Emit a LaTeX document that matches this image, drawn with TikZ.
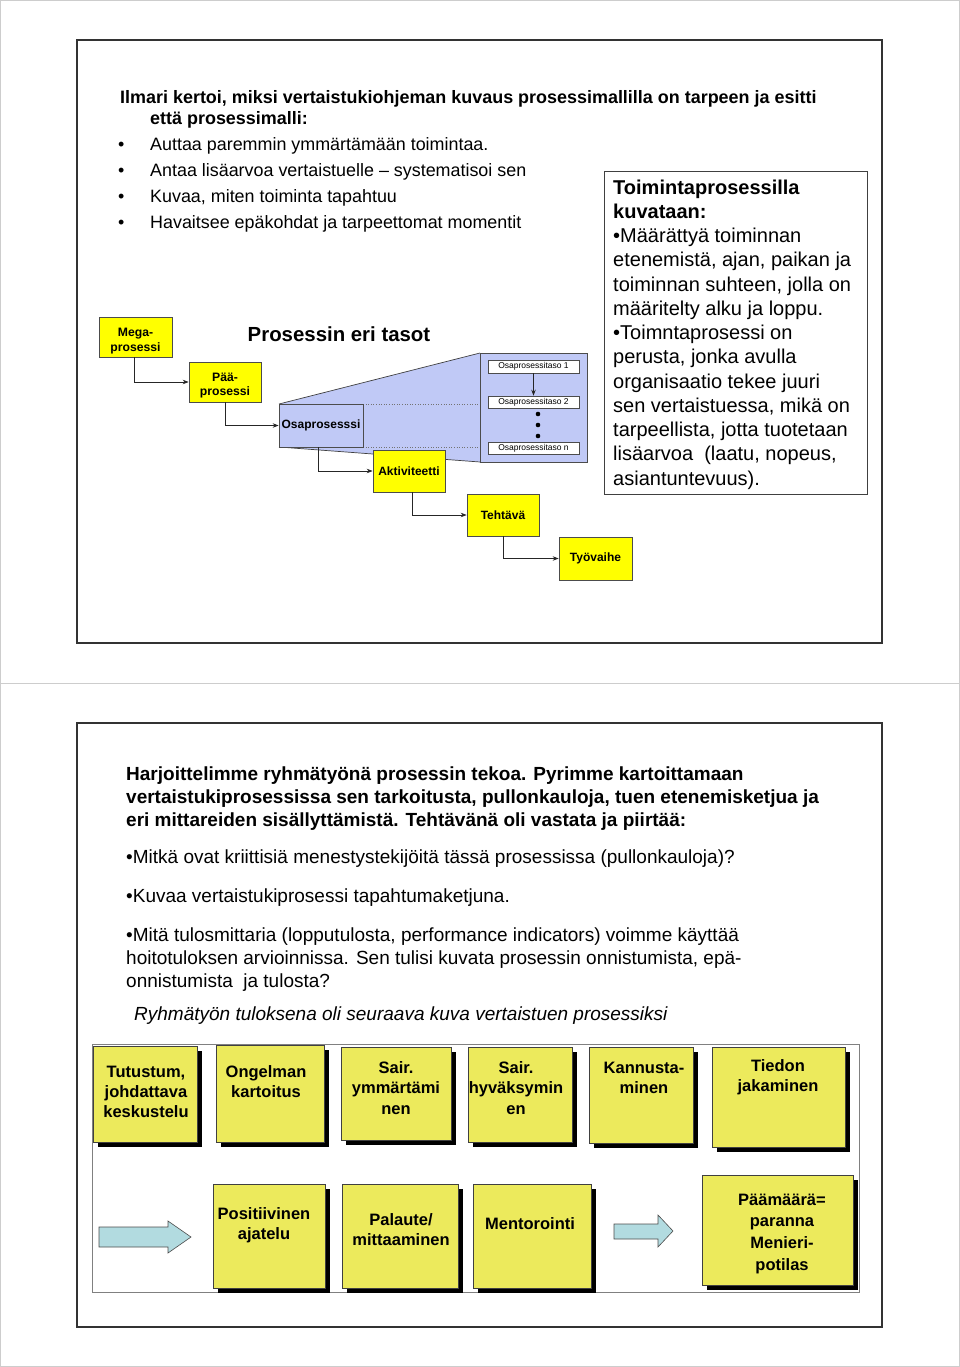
\documentclass[tikz,border=0pt]{standalone}
\usepackage{fontspec}
\setmainfont{Liberation Sans}
\usetikzlibrary{arrows.meta,shadows}
\definecolor{ybright}{RGB}{255,255,0}
\definecolor{ypale}{RGB}{236,234,92}
\definecolor{bluefill}{RGB}{192,201,246}
\definecolor{arrowfill}{RGB}{178,219,224}
\definecolor{pagegrey}{RGB}{205,205,205}
\newcommand\boxnode[7][]{\node[#1, minimum width={#5-#3}, minimum height={#6-#4}] (#2) at ({(#3+#5)/2},{(#4+#6)/2}) {#7};}
\tikzset{
  frame/.style={draw=black!80, line width=1.3pt},
  ybox/.style={draw=black!70, fill=ybright, line width=0.7pt, inner sep=0pt, align=center, font=\bfseries\fontsize{12.2}{14.5}\selectfont},
  ytext/.style={inner sep=0pt, align=center, font=\bfseries\fontsize{12.2}{14.5}\selectfont},
  bluebox/.style={draw=black!70, fill=bluefill, line width=0.7pt, inner sep=0pt},
  lvbox/.style={draw=black!70, fill=white, line width=0.6pt, inner sep=0pt, font=\fontsize{8.5}{9}\selectfont},
  conn/.style={draw=black!85, line width=0.7pt, -{Stealth[length=6pt,width=4.5pt]}},
  postit/.style={draw=black!75, fill=ypale, line width=0.6pt, inner sep=0pt,
    drop shadow={shadow xshift=5pt, shadow yshift=-5pt, fill=black, opacity=1}},
  ptext/.style={anchor=north, align=center, inner sep=0pt, font=\bfseries\fontsize{16.5}{20.3}\selectfont},
  blockarrow/.style={draw=black!70, fill=arrowfill, line width=0.6pt},
  body/.style={anchor=base west, inner sep=0pt, font=\fontsize{17.9}{26}\selectfont},
  bodyb/.style={anchor=base west, inner sep=0pt, font=\bfseries\fontsize{17.95}{21}\selectfont},
  para/.style={anchor=north west, align=left, inner sep=0pt, font=\fontsize{19}{23}\selectfont},
}
\begin{document}
\begin{tikzpicture}[x=1pt,y=-1pt]
\useasboundingbox (0,0) rectangle (960,1367);
% pages
\draw[pagegrey, line width=1pt] (0.5,0.5) rectangle (959.5,1366.5);
\draw[pagegrey, line width=1pt] (0,683) -- (960,683);
% ---------------- slide 1 ----------------
\draw[frame] (77,40) rectangle (882,643);
\node[bodyb] (s1a) at (120,103.5) {Ilmari kertoi, miksi vertaistukiohjeman kuvaus prosessimallilla on tarpeen ja esitti};
\node[bodyb] (s1b) at (150,124.5) {että prosessimalli:};
\foreach \y/\t [count=\i] in {150.5/{Auttaa paremmin ymmärtämään toimintaa.},176.5/{Antaa lisäarvoa vertaistuelle – systematisoi sen},202.5/{Kuvaa, miten toiminta tapahtuu},228.5/{Havaitsee epäkohdat ja tarpeettomat momentit}}{
  \node[body] (bul\i) at (118,\y) {•};
  \node[body] (bt\i) at (150,\y) {\t};
}
% right text box
\draw[draw=black!75, line width=0.8pt] (604,171) rectangle (867,494);
\node[anchor=north west, align=left, inner sep=0pt, font=\fontsize{20}{24.25}\selectfont] (rtext) at (613,179.5)
 {\textbf{Toimintaprosessilla}\\\textbf{kuvataan:}\\•Määrättyä toiminnan\\etenemistä, ajan, paikan ja\\toiminnan suhteen, jolla on\\määritelty alku ja loppu.\\•Toimntaprosessi on\\perusta, jonka avulla\\organisaatio tekee juuri\\sen vertaistuessa, mikä on\\tarpeellista, jotta tuotetaan\\lisäarvoa\ \ (laatu, nopeus,\\asiantuntevuus).};
% title
\node[inner sep=0pt, font=\bfseries\fontsize{20.4}{22}\selectfont] (tasot) at (339,334) {Prosessin eri tasot};
% blue magnifier
\fill[bluefill] (279,404) -- (480,353) -- (480,462) -- (279,447) -- cycle;
\draw[black!75, line width=0.7pt] (279,404) -- (480,353);
\draw[black!75, line width=0.7pt] (279,447) -- (480,462);
\draw[black!55, line width=0.6pt, dotted] (363,404) -- (480,404);
\draw[black!55, line width=0.6pt, dotted] (363,447) -- (480,447);
\boxnode[bluebox, font=\bfseries\fontsize{12}{14}\selectfont]{osa}{279}{404}{363}{447}{Osaprosesssi}
\boxnode[bluebox]{lv}{480}{353}{587}{462}{}
\boxnode[lvbox]{lv1}{488}{360}{579}{373}{Osaprosessitaso 1}
\boxnode[lvbox]{lv2}{488}{396}{579}{408}{Osaprosessitaso 2}
\boxnode[lvbox]{lvn}{488}{442}{579}{454}{Osaprosessitaso n}
\draw[conn] (lv1.south) -- (lv2.north);
\foreach \y in {414,425,436} \fill[black] (538,\y) circle (2.3);
% yellow hierarchy
\boxnode[ybox]{mega}{99}{317}{172}{357}{}
\node[ytext] (megat) at (135.5,341) {Mega-\\prosessi};
\boxnode[ybox]{paa}{189}{362}{261}{402}{}
\node[ytext] (paat) at (225,385.5) {Pää-\\prosessi};
\boxnode[ybox, font=\bfseries\fontsize{12}{14}\selectfont]{akt}{373}{450}{445}{492}{Aktiviteetti}
\boxnode[ybox, font=\bfseries\fontsize{12}{14}\selectfont]{teh}{467}{494}{539}{536}{Tehtävä}
\boxnode[ybox, font=\bfseries\fontsize{12}{14}\selectfont]{tyo}{559}{537}{632}{580}{Työvaihe}
\draw[conn] ([xshift=-1.5pt]mega.south) |- (paa.west);
\draw[conn] (paa.south) |- (osa.west);
\draw[conn] ([xshift=-3pt]osa.south) |- (akt.west);
\draw[conn] ([xshift=3pt]akt.south) |- (teh.west);
\draw[conn] (teh.south) |- (tyo.west);
% ---------------- slide 2 ----------------
\draw[frame] (77,723) rectangle (882,1327);
\node[para, font=\bfseries\fontsize{19}{23}\selectfont] (p2) at (126,766.5)
 {Harjoittelimme ryhmätyönä prosessin tekoa. Pyrimme kartoittamaan\\vertaistukiprosessissa sen tarkoitusta, pullonkauloja, tuen etenemisketjua ja\\eri mittareiden sisällyttämistä. Tehtävänä oli vastata ja piirtää:};
\node[para] (q1) at (126,850)
 {•Mitkä ovat kriittisiä menestystekijöitä tässä prosessissa (pullonkauloja)?};
\node[para] (q2) at (126,889)
 {•Kuvaa vertaistukiprosessi tapahtumaketjuna.};
\node[para] (q3) at (126,928)
 {•Mitä tulosmittaria (lopputulosta, performance indicators) voimme käyttää\\hoitotuloksen arvioinnissa. Sen tulisi kuvata prosessin onnistumista, epä-\\onnistumista\ \ ja tulosta?};
\node[para, font=\itshape\fontsize{19}{23}\selectfont] (res) at (134,1007)
 {Ryhmätyön tuloksena oli seuraava kuva vertaistuen prosessiksi};
% inner frame
\draw[black!50, line width=0.9pt] (92,1044) rectangle (859,1292);
% top row
\boxnode[postit]{b1}{93}{1046}{197}{1142}{}
\boxnode[postit]{b2}{216}{1045}{324}{1142}{}
\boxnode[postit]{b3}{341}{1047}{451}{1140}{}
\boxnode[postit]{b4}{468}{1047}{572}{1142}{}
\boxnode[postit]{b5}{589}{1047}{693}{1143}{}
\boxnode[postit]{b6}{712}{1047}{845}{1147}{}
\node[ptext] (b1t) at (146,1065.5) {Tutustum,\\johdattava\\keskustelu};
\node[ptext] (b2t) at (266,1065.5) {Ongelman\\kartoitus};
\node[ptext] (b3t) at (396,1061.5) {Sair.\\ymmärtämi\\nen};
\node[ptext] (b4t) at (516,1061.5) {Sair.\\hyväksymin\\en};
\node[ptext] (b5t) at (644,1061.5) {Kannusta-\\minen};
\node[ptext] (b6t) at (778,1059.5) {Tiedon\\jakaminen};
% bottom row
\boxnode[postit]{c1}{213}{1184}{325}{1288}{}
\boxnode[postit]{c2}{342}{1184}{458}{1288}{}
\boxnode[postit]{c3}{473}{1184}{591}{1288}{}
\boxnode[postit]{c4}{702}{1175}{853}{1285}{}
\node[ptext] (c1t) at (264,1207.5) {Positiivinen\\ajatelu};
\node[ptext] (c2t) at (401,1213.5) {Palaute/\\mittaaminen};
\node[ptext] (c3t) at (530,1217.5) {Mentorointi};
\node[ptext, font=\bfseries\fontsize{16.5}{21.7}\selectfont] (c4t) at (782,1193.5) {Päämäärä=\\paranna\\Menieri-\\potilas};
% block arrows
\draw[blockarrow] (99,1227) -- (168,1227) -- (168,1221) -- (191,1237) -- (168,1253) -- (168,1247) -- (99,1247) -- cycle;
\draw[blockarrow] (614,1224) -- (658,1224) -- (658,1215) -- (673,1231) -- (658,1247) -- (658,1239) -- (614,1239) -- cycle;
\end{tikzpicture}
\end{document}
